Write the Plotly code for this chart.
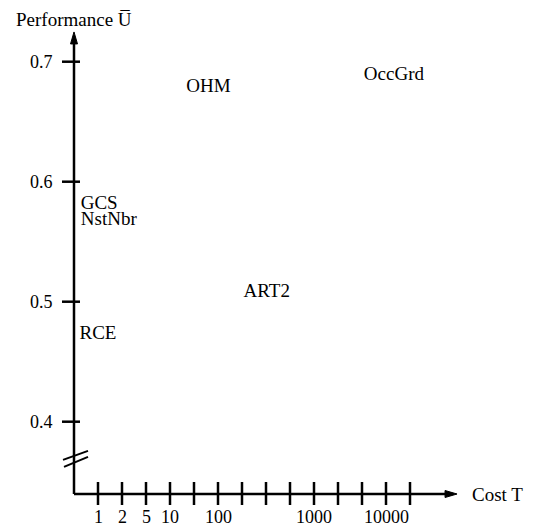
import plotly.graph_objects as go

# ---- data ----
methods = ["OHM", "OccGrd", "GCS", "NstNbr", "ART2", "RCE"]
cost_pos = [5.60, 13.33, 1.05, 1.45, 8.03, 1.00]          # position on the (schematic) cost scale
performance = [0.679, 0.689, 0.5815, 0.5675, 0.508, 0.473]

x_tick_pos = list(range(1, 15))
x_label_pos = [1, 2, 3, 4, 6, 10, 13]
x_label_text = ["1", "2", "5", "10", "100", "1000", "10000"]
y_tick_vals = [0.4, 0.5, 0.6, 0.7]
y_tick_text = ["0.4", "0.5", "0.6", "0.7"]

# axis geometry (data units)
x_origin, y_origin = 0.0, 0.33975
x_end, y_end = 15.96, 0.7248
y_break = 0.369

FONT = "Liberation Serif"
FS_NUM = 18
FS_TXT = 19
LW = 2.5

fig = go.Figure()
fig.add_trace(go.Scatter(
    x=cost_pos, y=performance, mode="text", text=methods,
    textposition="middle center",
    textfont=dict(family=FONT, size=FS_TXT, color="black"),
    hoverinfo="skip", showlegend=False))

shapes = []
# axes lines
shapes.append(dict(type="line", xref="x", yref="y", x0=x_origin, x1=x_origin,
                   y0=y_origin, y1=y_end - 0.004, line=dict(color="black", width=LW)))
shapes.append(dict(type="line", xref="x", yref="y", x0=x_origin, x1=x_end - 0.2,
                   y0=y_origin, y1=y_origin, line=dict(color="black", width=LW)))
# arrowheads (pixel-sized, anchored at tips)
shapes.append(dict(type="path", xref="x", yref="y", xsizemode="pixel", ysizemode="pixel",
                   xanchor=x_origin, yanchor=y_end, path="M 0 0 L -3.5 -12 L 3.5 -12 Z",
                   fillcolor="black", line=dict(color="black", width=1)))
shapes.append(dict(type="path", xref="x", yref="y", xsizemode="pixel", ysizemode="pixel",
                   xanchor=x_end, yanchor=y_origin, path="M 0 0 L -12 3.5 L -12 -3.5 Z",
                   fillcolor="black", line=dict(color="black", width=1)))
# x ticks (crossing the axis)
for p in x_tick_pos:
    shapes.append(dict(type="line", xref="x", yref="y", xsizemode="pixel", ysizemode="pixel",
                       xanchor=p, yanchor=y_origin, x0=0, x1=0, y0=-11, y1=12,
                       line=dict(color="black", width=LW)))
# y ticks
for v in y_tick_vals:
    shapes.append(dict(type="line", xref="x", yref="y", xsizemode="pixel", ysizemode="pixel",
                       xanchor=x_origin, yanchor=v, x0=-12, x1=6, y0=0, y1=0,
                       line=dict(color="black", width=LW)))
# axis break marks
shapes.append(dict(type="line", xref="x", yref="y", xsizemode="pixel", ysizemode="pixel",
                   xanchor=x_origin, yanchor=y_break, x0=-11, y0=-1, x1=14, y1=8,
                   line=dict(color="black", width=2)))
shapes.append(dict(type="line", xref="x", yref="y", xsizemode="pixel", ysizemode="pixel",
                   xanchor=x_origin, yanchor=y_break, x0=-10, y0=-8, x1=14, y1=2,
                   line=dict(color="black", width=2)))

annotations = []
for p, t in zip(x_label_pos, x_label_text):
    annotations.append(dict(x=p, y=y_origin, xref="x", yref="y", text=t, showarrow=False,
                            xanchor="center", yanchor="middle", yshift=-23,
                            font=dict(family=FONT, size=FS_NUM, color="black")))
for v, t in zip(y_tick_vals, y_tick_text):
    annotations.append(dict(x=x_origin, y=v, xref="x", yref="y", text=t, showarrow=False,
                            xanchor="right", yanchor="middle", xshift=-19,
                            font=dict(family=FONT, size=FS_NUM, color="black")))
annotations.append(dict(x=x_end, y=y_origin, xref="x", yref="y", text="Cost T", showarrow=False,
                        xanchor="left", yanchor="middle", xshift=13,
                        font=dict(family=FONT, size=FS_TXT, color="black")))
annotations.append(dict(x=6 / 528, y=1 - 12 / 519, xref="paper", yref="paper",
                        text="Performance U\u0305", showarrow=False,
                        xanchor="left", yanchor="middle",
                        font=dict(family=FONT, size=FS_TXT, color="black")))

# the page body adds an 8 px offset, so the figure is 8 px smaller than the window
fig.update_layout(
    width=528, height=519, margin=dict(l=0, r=0, t=0, b=0),
    paper_bgcolor="white", plot_bgcolor="white",
    xaxis=dict(visible=False, range=[-66 / 24, 462 / 24], fixedrange=True),
    yaxis=dict(visible=False, range=[0.31225, 0.74475], fixedrange=True),
    shapes=shapes, annotations=annotations, showlegend=False)

fig.write_html("out.html")
